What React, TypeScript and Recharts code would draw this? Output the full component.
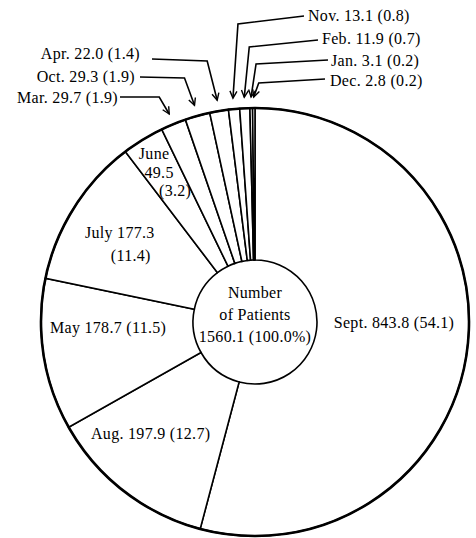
import { Pie, PieChart } from "recharts";

const months = ["Sept.", "Aug.", "May", "July", "June", "Mar.", "Oct.", "Apr.", "Nov.", "Feb.", "Jan.", "Dec."];
const patients = [843.8, 197.9, 178.7, 177.3, 49.5, 29.7, 29.3, 22.0, 13.1, 11.9, 3.1, 2.8];
const shares = ["54.1", "12.7", "11.5", "11.4", "3.2", "1.9", "1.9", "1.4", "0.8", "0.7", "0.2", "0.2"];
const centerLines = ["Number", "of Patients", "1560.1 (100.0%)"];

const data = months.map((name, i) => ({ name, value: patients[i], share: shares[i] }));
const total = patients.reduce((a, b) => a + b, 0);

const FONT = '"Liberation Serif", "Times New Roman", serif';
const RAD = Math.PI / 180;

// clockwise degrees from 12 o'clock
const polar = (cx: number, cy: number, r: number, cw: number) => [
  cx + r * Math.sin(cw * RAD),
  cy - r * Math.cos(cw * RAD),
];

// labels written inside their slices
const inside: Record<string, { shift: number; r: number; split: number; offs: number[][] }> = {
  "Sept.": { shift: -7.4, r: 139, split: 1, offs: [[0, 0]] },
  "Aug.": { shift: 5.3, r: 153, split: 1, offs: [[0, 0]] },
  May: { shift: 6.8, r: 147, split: 1, offs: [[0, 0]] },
  July: { shift: -1.2, r: 152, split: 2, offs: [[-5, -11.5], [6, 11.5]] },
  June: { shift: -0.3, r: 176, split: 3, offs: [[-8, -19], [-3, 0], [13, 18]] },
};

// labels pulled out with arrows
const callouts: Record<string, { side: "l" | "r"; tx: number; ty: number; sx: number; sy: number; ey: number }> = {
  "Nov.": { side: "r", tx: 308, ty: 15, sx: 304, sy: 16, ey: 24 },
  "Feb.": { side: "r", tx: 322, ty: 38, sx: 318, sy: 40, ey: 47 },
  "Jan.": { side: "r", tx: 331, ty: 60, sx: 328, sy: 60, ey: 64 },
  "Dec.": { side: "r", tx: 330, ty: 80, sx: 325, sy: 79, ey: 83 },
  "Apr.": { side: "l", tx: 140, ty: 53, sx: 152, sy: 59, ey: 61 },
  "Oct.": { side: "l", tx: 135, ty: 76, sx: 140, sy: 77, ey: 78 },
  "Mar.": { side: "l", tx: 118, ty: 97, sx: 120, sy: 97, ey: 97 },
};

const txt = {
  fontFamily: FONT,
  fontSize: 16,
  fill: "#000",
  letterSpacing: 0.3,
};

function renderLabel(props: any) {
  const { cx, cy, midAngle, outerRadius, index } = props;
  const d = data[index];
  const cw = 90 - midAngle;
  const v = d.value.toFixed(1);
  const ins = inside[d.name];
  const out: any[] = [];

  if (index === 0) {
    centerLines.forEach((l, i) =>
      out.push(
        <text key={"c" + i} x={cx} y={cy + (i - 1) * 22 - 8} textAnchor="middle" dominantBaseline="central" style={txt}>
          {l}
        </text>
      )
    );
  }

  if (ins) {
    const lines =
      ins.split === 1
        ? [`${d.name} ${v} (${d.share})`]
        : ins.split === 2
        ? [`${d.name} ${v}`, `(${d.share})`]
        : [d.name, v, `(${d.share})`];
    const [x, y] = polar(cx, cy, ins.r, cw + ins.shift);
    lines.forEach((l, i) =>
      out.push(
        <text key={"t" + i} x={x + ins.offs[i][0]} y={y + ins.offs[i][1]} textAnchor="middle" dominantBaseline="central" style={txt}>
          {l}
        </text>
      )
    );
  }

  const co = callouts[d.name];
  if (co) {
    const [tipX, tipY] = polar(cx, cy, outerRadius + 11, cw);
    const ex = co.side === "r" ? tipX + 5 : tipX - 10;
    const ey = co.ey;
    const len = Math.hypot(tipX - ex, tipY - ey);
    const ux = (tipX - ex) / len;
    const uy = (tipY - ey) / len;
    const hx = tipX - 7 * ux;
    const hy = tipY - 7 * uy;
    out.push(
      <polyline
        key="ln"
        points={`${co.sx},${co.sy} ${ex},${ey} ${tipX},${tipY}`}
        fill="none"
        stroke="#000"
        strokeWidth={1.6}
      />,
      <polyline
        key="hd"
        points={`${hx - 3.5 * uy},${hy + 3.5 * ux} ${tipX},${tipY} ${hx + 3.5 * uy},${hy - 3.5 * ux}`}
        fill="none"
        stroke="#000"
        strokeWidth={1.4}
      />,
      <text
        key="ct"
        x={co.tx}
        y={co.ty}
        textAnchor={co.side === "r" ? "start" : "end"}
        dominantBaseline="central"
        style={txt}
      >
        {`${d.name} ${v} (${d.share})`}
      </text>
    );
  }

  return <g>{out}</g>;
}

export default function App() {
  return (
    <div style={{ width: 476, height: 538, background: "#fff" }}>
      <style>{"body{margin:0}"}</style>
      <PieChart width={476} height={538} margin={{ top: 0, right: 0, bottom: 0, left: 0 }}>
        <Pie
          data={data}
          dataKey="value"
          nameKey="name"
          cx={255}
          cy={322}
          innerRadius={62}
          outerRadius={214}
          startAngle={90}
          endAngle={-270}
          fill="#fff"
          stroke="#000"
          strokeWidth={1.6}
          label={renderLabel}
          labelLine={false}
          isAnimationActive={false}
        />
        <Pie
          data={[{ name: "all", value: total }]}
          dataKey="value"
          cx={255}
          cy={322}
          innerRadius={214}
          outerRadius={214}
          startAngle={90}
          endAngle={-270}
          fill="none"
          stroke="#000"
          strokeWidth={2.6}
          isAnimationActive={false}
        />
      </PieChart>
    </div>
  );
}
